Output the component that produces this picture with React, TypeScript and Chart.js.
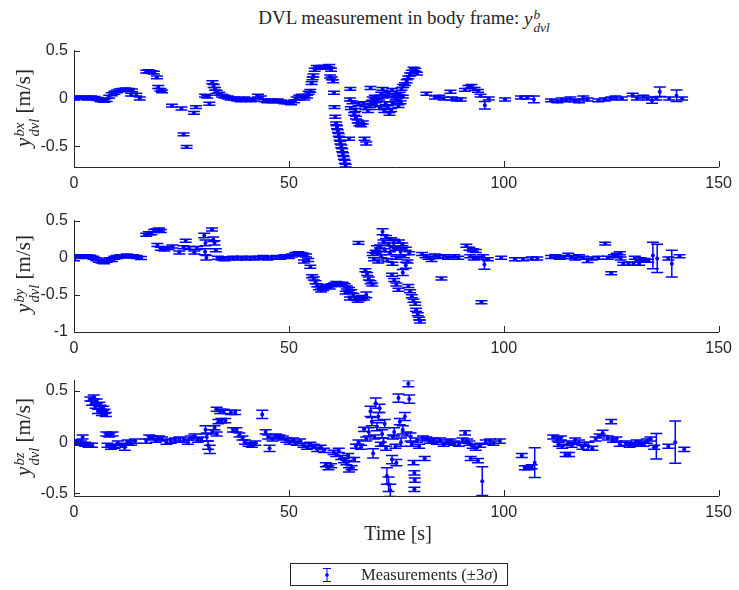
import React, { useEffect, useRef } from "react";
import { Chart, registerables } from "chart.js";

Chart.register(...registerables);

// ---------- data: [time (s), velocity (m/s), 3-sigma half-width] ----------
type Pt = [number, number, number];

const xTickValues = [0, 50, 100, 150];
const yTicksBx = [-0.5, 0, 0.5];
const yTicksBy = [-1, -0.5, 0, 0.5];
const yTicksBz = [-0.5, 0, 0.5];

const measBx: Pt[] = [
  [0, 0.0, .015], [0.8, 0.01, .015], [1.6, 0.005, .015], [2.4, 0.01, .015], [3.2, 0.0, .015], [4, 0.012, .015],
  [4.8, 0.005, .015], [5.5, -0.005, .015], [6.2, -0.02, .015], [7, -0.025, .015], [7.6, -0.015, .015],
  [8.2, 0.02, .015], [8.8, 0.045, .015], [9.4, 0.06, .015], [10, 0.075, .015], [10.6, 0.085, .015], [11.2, 0.09, .015],
  [12, 0.095, .015], [12.8, 0.09, .015], [13.5, 0.085, .015], [13.3, 0.04, .015], [14.5, 0.04, .015], [15.3, 0.0, .015],
  [16.8, 0.28, .015], [17.4, 0.285, .015], [18, 0.275, .015], [18.6, 0.27, .015], [19.3, 0.22, .015], [19.6, 0.12, .015],
  [20.1, 0.09, .015], [20.5, 0.075, .015],
  [22.8, -0.075, .015], [25, -0.105, .015], [25.5, -0.375, .015], [26.2, -0.505, .015], [27.9, -0.15, .015], [28.4, -0.09, .015],
  [30.5, 0.03, .015], [31, 0.02, .015], [31.5, -0.055, .015], [32.2, 0.17, .015], [32.5, 0.13, .015], [32.8, 0.1, .015],
  [33.2, 0.07, .015], [33.8, 0.05, .015], [34.4, 0.03, .015], [35, 0.02, .015], [35.8, 0.01, .015], [36.5, 0.0, .015],
  [37.2, 0.0, .015], [38, -0.01, .015], [38.8, -0.02, .015], [39.6, 0.0, .015], [40.4, -0.01, .015], [41.2, -0.02, .015],
  [42, -0.01, .015], [42.8, 0.03, .015], [43.5, 0.01, .015], [44.3, -0.02, .015], [45, -0.03, .015], [45.8, -0.02, .015],
  [46.6, -0.03, .015], [47.4, -0.02, .015], [48.2, -0.03, .015], [49, -0.04, .015], [49.8, -0.04, .015], [50.5, -0.05, .015],
  [51.2, -0.03, .015], [51.8, 0.0, .015], [52.4, 0.02, .015], [53, 0.03, .015], [53.6, 0.0, .015], [54.2, 0.02, .015],
  [54.6, 0.06, .015], [55, 0.08, .015], [55.3, 0.16, .015], [55.5, 0.21, .015], [55.7, 0.24, .015], [56, 0.3, .015],
  [56.5, 0.33, .015], [57, 0.32, .015], [57.6, 0.33, .015], [58.2, 0.33, .015], [58.8, 0.32, .015], [59.4, 0.34, .015],
  [59.8, 0.3, .015], [59.6, 0.23, .015], [60, 0.21, .015], [60.3, 0.18, .015], [60.5, 0.06, .015], [60.6, -0.09, .015],
  [60.8, -0.19, .015], [61, -0.26, .015], [61.2, -0.3, .015], [61.4, -0.34, .015], [61.6, -0.38, .015], [61.8, -0.42, .015],
  [62, -0.46, .015], [62.2, -0.5, .015], [62.4, -0.54, .015], [62.6, -0.58, .015], [62.8, -0.62, .015], [63, -0.66, .015],
  [63.2, -0.7, .015],
  [64.3, 0.1, .015], [64.2, -0.01, .015], [64.4, -0.1, .015], [64, -0.42, .015], [64.8, -0.04, .015], [65.2, -0.16, .015],
  [65.6, -0.2, .015], [66, -0.24, .015], [66.4, -0.27, .015], [66.8, -0.28, .015], [67.2, -0.25, .015], [67.6, -0.42, .015],
  [68, -0.47, .015], [65.5, -0.12, .015], [66.2, -0.06, .015], [67.4, -0.05, .015], [67.8, -0.1, .015],
  [68.4, -0.13, .015], [68.8, -0.08, .015], [69.2, -0.04, .015], [69.5, 0.0, .015], [69, 0.11, .015], [70, 0.02, .015],
  [70.2, -0.06, .015], [70.5, -0.02, .015], [71, 0.0, .015], [71.2, -0.1, .015], [71.5, 0.05, .015], [71.8, 0.1, .015],
  [72, 0.02, .015], [72.2, -0.13, .015], [72.5, -0.05, .015], [72.8, 0.03, .015], [73, -0.09, .015], [73.2, 0.06, .015],
  [73.4, -0.16, .015], [73.8, -0.12, .015], [74, 0.09, .015], [74.2, -0.05, .015], [74.5, 0.04, .015], [74.8, 0.0, .015],
  [75, -0.02, .015], [75.3, 0.03, .015], [75.5, -0.08, .015], [75.8, 0.05, .015], [76, -0.04, .015], [76.2, 0.1, .015],
  [76.5, 0.02, .015], [76.6, 0.13, .015], [77, 0.15, .015], [77.4, 0.18, .015], [77.8, 0.22, .015], [78.2, 0.25, .015],
  [78.6, 0.28, .015], [79, 0.31, .015], [79.4, 0.3, .015], [79.8, 0.26, .015],
  [82, 0.05, .015], [84, 0.01, .015], [85, 0.02, .015], [86, 0.0, .015], [87.6, 0.07, .015], [88, 0.0, .015],
  [89, -0.01, .015], [90, -0.01, .015], [91, 0.09, .015], [91.8, 0.12, .015], [92.5, 0.13, .015], [93.2, 0.1, .015],
  [94, 0.08, .015], [94.6, 0.03, .015], [95.6, -0.07, .04], [96.5, 0.0, .015], [100.3, -0.01, .015], [104, 0.01, .015],
  [105.5, 0.01, .015], [107, -0.01, .035],
  [111, -0.02, .015], [112.5, -0.03, .015], [113.5, -0.01, .015], [114.5, -0.02, .015], [115.5, 0.0, .015],
  [116.5, -0.02, .015], [117.5, -0.03, .015], [118.5, 0.01, .015], [119.5, -0.01, .015],
  [122, -0.02, .015], [123.5, -0.01, .015], [125, 0.0, .015], [126, 0.01, .015], [127.5, 0.0, .015],
  [130, 0.04, .015], [131, 0.0, .015], [132.5, 0.02, .015], [133.5, 0.0, .015], [134.5, -0.02, .03], [135.5, 0.0, .015],
  [136.3, 0.07, .05], [138.5, 0.0, .015], [140.2, 0.03, .06], [141.5, 0.0, .015],
];

const measBy: Pt[] = [
  [0, -0.02, .02], [0.6, 0.02, .02], [1.4, 0.01, .02], [2.2, 0.02, .02], [3, 0.02, .02], [3.8, 0.015, .02],
  [4.5, 0.0, .02], [5.2, -0.02, .02], [5.8, -0.04, .02], [6.4, -0.05, .02], [7, -0.06, .02], [7.6, -0.04, .02],
  [8.2, -0.02, .02], [8.8, -0.03, .02], [9.4, 0.0, .02], [10, 0.01, .02], [10.8, 0.02, .02], [11.5, 0.02, .02],
  [12.3, 0.03, .02], [13, 0.02, .02], [13.8, 0.02, .02], [14.6, 0.01, .02], [15.6, -0.005, .02],
  [16.8, 0.31, .02], [17.4, 0.33, .02], [18, 0.33, .02], [18.6, 0.36, .02], [19.2, 0.37, .02], [19.8, 0.38, .02], [20.2, 0.36, .02],
  [19.4, 0.17, .02], [20.2, 0.12, .02], [21, 0.11, .02], [22, 0.13, .02], [22.9, 0.15, .02], [24.5, 0.07, .02],
  [25.5, 0.14, .02], [26, 0.23, .02], [26.8, 0.13, .02], [28, 0.07, .02], [28.6, 0.13, .02], [30.3, 0.3, .03],
  [30.6, 0.2, .04], [30.5, 0.08, .04], [30.8, 0.0, .03], [32.1, 0.38, .02], [32.4, 0.25, .03], [32.7, 0.2, .03],
  [33, 0.1, .02], [33.5, 0.0, .02], [34.3, -0.01, .02], [35, -0.02, .02], [36, -0.01, .02],
  [37, 0.0, .02], [38, -0.01, .02], [39, 0.0, .02], [40, -0.01, .02], [41, 0.0, .02], [42, -0.01, .02], [43, 0.0, .02],
  [44, 0.01, .02], [45, -0.01, .02], [46, 0.0, .02], [47, 0.01, .02], [48, 0.0, .02], [49, 0.02, .02], [50, 0.01, .02],
  [50.8, 0.03, .02], [51.5, 0.05, .02], [52.2, 0.06, .02], [52.8, 0.05, .02], [53.4, 0.04, .02], [54, 0.03, .02],
  [53.5, -0.05, .02], [54.5, -0.03, .02], [55, -0.12, .02],
  [55.4, -0.25, .02], [55.8, -0.28, .02], [56.2, -0.33, .02], [56.6, -0.37, .02], [57, -0.41, .02], [57.5, -0.44, .02],
  [58, -0.42, .02], [58.5, -0.39, .02], [59, -0.38, .02], [59.5, -0.4, .02], [60, -0.37, .02], [60.5, -0.36, .02],
  [61, -0.34, .02], [61.5, -0.35, .02], [62, -0.36, .02], [62.5, -0.35, .02], [63, -0.37, .02], [63.5, -0.4, .02],
  [64, -0.42, .02], [64.5, -0.45, .02], [65, -0.5, .02], [65.5, -0.55, .02], [66, -0.58, .02], [66.5, -0.56, .02],
  [67, -0.53, .02], [67.5, -0.55, .02], [68, -0.5, .04], [63.2, -0.47, .02], [64.2, -0.55, .02],
  [66.2, 0.2, .02], [67.8, -0.17, .02], [68.2, -0.22, .02], [68.6, -0.28, .02], [69, -0.33, .02], [69.4, -0.36, .02],
  [69.5, 0.05, .02], [69.8, -0.02, .02], [70.2, 0.08, .02], [70.5, 0.12, .04], [70.8, -0.05, .02], [71.2, 0.15, .02],
  [71.5, 0.02, .02], [71.8, 0.35, .04], [72, 0.22, .02], [72.3, 0.1, .02], [72.6, 0.28, .02], [72.9, -0.03, .02],
  [73.2, 0.18, .02], [73.5, 0.06, .02], [73.8, 0.25, .02], [74.1, -0.08, .02], [74.4, 0.2, .05], [74.7, 0.12, .02],
  [75, 0.0, .02], [75.3, 0.14, .02], [75.6, 0.22, .02], [76, 0.08, .04], [76.4, 0.18, .02], [76.8, 0.02, .02],
  [77.2, 0.12, .02], [77.6, -0.05, .02], [78, 0.06, .02],
  [74, -0.23, .02], [74.5, -0.3, .02], [75, -0.36, .02], [75.5, -0.43, .02], [76.5, -0.2, .04], [77.2, -0.1, .04],
  [77.8, -0.38, .02], [78.2, -0.45, .02], [78.6, -0.52, .02], [79, -0.58, .02], [79.4, -0.62, .02], [79.6, -0.7, .02],
  [80, -0.76, .02], [80.3, -0.82, .02], [80.5, -0.86, .02],
  [81, 0.05, .02], [81.8, 0.02, .02], [82.5, 0.0, .02], [83.2, -0.03, .02], [84, 0.03, .02], [84.8, 0.01, .02],
  [85.5, -0.28, .02], [86.2, 0.02, .02], [87, 0.0, .02], [88.5, 0.02, .02], [89.4, 0.0, .02],
  [91.3, 0.16, .02], [92, 0.12, .02], [92.8, 0.1, .02], [93.5, 0.09, .02], [92.2, 0.02, .02], [93, -0.01, .02],
  [94, 0.0, .02], [94.8, -0.6, .02], [95.2, 0.02, .02], [95.5, -0.09, .065], [96.3, -0.02, .02],
  [99.4, 0.0, .02], [102.6, -0.02, .02], [104.5, -0.02, .02], [106.5, -0.01, .02], [107.8, -0.01, .02],
  [111, 0.01, .02], [112, 0.02, .02], [113, 0.0, .02], [114, 0.01, .02], [115, 0.04, .02], [115.8, 0.01, .02],
  [116.6, -0.01, .02], [117.5, 0.02, .02], [118.5, 0.0, .02], [119.5, -0.04, .025], [120.5, -0.01, .02],
  [122, 0.0, .02], [123.6, 0.19, .02], [124.2, 0.0, .02], [125, -0.21, .02], [125.6, 0.02, .02], [126.3, 0.04, .02],
  [127.2, -0.01, .02], [127, 0.06, .02],
  [127.8, -0.08, .02], [129, -0.08, .02], [130.2, -0.08, .02], [131.5, -0.08, .02], [130.5, 0.0, .02], [131.8, -0.02, .02],
  [132.8, -0.03, .02], [133.6, -0.04, .02], [134.7, 0.03, .18], [135.7, -0.01, .19], [138.3, -0.01, .02],
  [139.1, -0.08, .18], [140.9, 0.02, .02],
];

const measBz: Pt[] = [
  [0, 0.0, .02], [0.8, 0.0, .02], [1.6, -0.01, .02], [2.0, 0.05, .02], [2.6, -0.02, .02], [3.4, -0.03, .02], [4.2, -0.03, .02],
  [3.8, 0.42, .02], [4.2, 0.38, .02], [4.6, 0.44, .02], [5, 0.35, .02], [5.3, 0.4, .02], [5.6, 0.3, .02], [5.9, 0.37, .02],
  [6.2, 0.34, .02], [6.5, 0.28, .02], [6.8, 0.33, .02], [7.1, 0.3, .02], [7.4, 0.27, .02],
  [7.5, 0.08, .02], [8.2, 0.07, .02], [9, 0.08, .02], [7.8, -0.03, .02], [8.6, -0.05, .02], [9.4, -0.04, .02],
  [10.2, -0.01, .02], [11, -0.03, .02], [11.8, -0.05, .03], [12.5, 0.0, .02], [13.3, -0.01, .02], [14.2, 0.01, .02],
  [16.8, 0.01, .02], [17.5, 0.05, .02], [18.2, 0.04, .02], [19, 0.02, .02], [19.8, 0.04, .02], [20.5, 0.03, .02],
  [21.5, 0.0, .02], [22.5, 0.01, .02], [23.5, 0.02, .02], [24.5, 0.03, .02], [25.5, 0.02, .02], [26.5, 0.0, .02],
  [27.2, 0.04, .02], [28, 0.06, .02], [28.8, 0.02, .02], [29.6, 0.03, .02],
  [30.6, 0.12, .04], [30.9, 0.05, .04], [31.2, -0.03, .04], [31.6, -0.07, .04], [32.2, 0.1, .02], [32.7, 0.14, .02],
  [33.2, 0.08, .02], [33.6, 0.2, .02], [34.3, 0.21, .02], [35.2, 0.21, .02], [33.2, 0.32, .02], [34, 0.3, .02],
  [34.8, 0.3, .02], [36.5, 0.29, .02], [37.5, 0.29, .02], [37, 0.12, .02], [37.8, 0.12, .02], [38.5, 0.07, .02],
  [39.2, 0.04, .02], [39.8, 0.0, .02], [40.6, -0.02, .02], [41.4, -0.03, .02], [42.2, -0.01, .02], [43.8, 0.27, .04],
  [44.6, 0.1, .02], [45.2, 0.05, .02], [45.5, -0.06, .03], [46.2, 0.03, .02], [47, 0.06, .02], [47.8, 0.05, .02],
  [48.6, 0.04, .02], [49.4, 0.02, .02], [50.2, 0.0, .02], [51, 0.02, .02], [51.8, -0.01, .02], [52.6, 0.01, .02],
  [53.4, -0.03, .02], [54.2, -0.05, .02], [55, -0.02, .02], [55.8, -0.04, .02], [56.6, -0.07, .02], [57.4, -0.05, .02],
  [58.2, -0.08, .02], [58.6, -0.22, .02], [59.2, -0.25, .02], [59.8, -0.23, .02], [60.4, -0.1, .02], [61, -0.12, .02],
  [61.6, -0.08, .02], [62.2, -0.15, .02], [62.8, -0.18, .02], [63.4, -0.2, .02], [64, -0.27, .02], [64.6, -0.25, .02],
  [63.8, -0.13, .02], [65.2, -0.17, .02], [65.6, -0.04, .02], [66.2, 0.0, .02], [66.8, -0.05, .02], [67.5, 0.125, .02],
  [68, 0.03, .02],
  [68.6, 0.1, .04], [69, 0.3, .05], [69.3, 0.2, .04], [69.6, -0.11, .045], [69.9, 0.05, .02], [70.2, 0.38, .05],
  [70.5, 0.15, .04], [70.8, 0.25, .04], [71.1, 0.33, .04], [71.4, -0.02, .02], [71.7, 0.08, .04], [72, 0.0, .04],
  [72.3, 0.18, .04], [72.6, -0.06, .02], [72.8, -0.33, .08], [73.2, -0.41, .07], [73.6, -0.47, .06], [74, -0.17, .04],
  [74.2, 0.05, .02], [74.5, 0.1, .04], [74.8, -0.04, .02], [75, -0.2, .03], [75.5, 0.43, .04], [75.8, 0.2, .03],
  [76.1, 0.0, .04], [76.5, 0.12, .04], [77, 0.25, .04], [77.4, 0.08, .02], [77.8, 0.57, .03], [78, 0.42, .04],
  [78.3, 0.05, .04], [78.6, -0.02, .02], [79, -0.2, .02], [79.2, -0.3, .02], [79.3, -0.37, .02], [79.2, -0.46, .02],
  [79.8, 0.02, .02], [80.3, -0.04, .02], [81.6, -0.16, .02],
  [81.2, 0.04, .02], [82, 0.03, .02], [82.8, 0.01, .02], [83.6, 0.02, .02], [84.4, 0.0, .02], [85.2, 0.02, .02],
  [86, -0.02, .02], [86.8, 0.0, .02], [87.6, 0.01, .02], [88.4, -0.01, .02], [89.6, -0.02, .02], [90.4, 0.02, .02],
  [91, 0.09, .02], [91.5, 0.01, .02], [92, -0.01, .02], [92.3, -0.16, .02], [92.8, -0.04, .02], [93.5, -0.06, .02],
  [94, -0.18, .02], [94.5, -0.03, .02], [95, -0.38, .14], [95.8, 0.0, .02], [96.8, 0.01, .02], [97.6, -0.01, .02],
  [99.1, 0.01, .02],
  [104.2, -0.13, .02], [104.9, -0.25, .02], [105.7, -0.25, .02], [106.5, -0.24, .02], [107.2, -0.2, .145],
  [111.5, 0.05, .02], [112.5, 0.03, .02], [113.3, 0.04, .02], [112.8, -0.02, .02], [113.6, -0.04, .02], [114.4, -0.12, .02],
  [115.2, -0.12, .02], [115, -0.01, .02], [115.8, -0.03, .02], [116.6, 0.02, .02], [117.5, 0.0, .02], [118.3, -0.05, .02],
  [119, -0.02, .02], [119.7, -0.04, .04], [120.6, -0.06, .02],
  [121.4, 0.03, .02], [122.3, 0.06, .02], [123, 0.09, .025], [125, 0.2, .02], [124.2, 0.04, .02], [125.4, 0.02, .02],
  [126.2, 0.03, .02], [127, -0.02, .02], [128.5, -0.01, .02], [129.3, -0.03, .02], [130.1, -0.02, .02], [130.9, 0.0, .02],
  [131.7, -0.01, .02], [132.5, -0.02, .02], [133.3, 0.01, .02], [134.1, 0.03, .02], [135, -0.05, .02],
  [135.5, -0.04, .125], [138.3, -0.04, .02], [139.9, 0.0, .205], [142, -0.07, .02],
];

// ---------- styles ----------
const BLUE = "rgb(0,0,255)";
const AXIS = "rgb(38,38,38)";
const SANS = "'Liberation Sans', Arial, Helvetica, sans-serif";
const SERIF = "'Liberation Serif', 'Times New Roman', serif";
const W = 739;

const errorBarPlugin = {
  id: "errorBars",
  beforeDatasetsDraw(chart: any) {
    const { ctx, chartArea, scales } = chart;
    const xs = scales.x;
    const ys = scales.y;
    ctx.save();
    ctx.beginPath();
    ctx.rect(chartArea.left, chartArea.top, chartArea.right - chartArea.left, chartArea.bottom - chartArea.top);
    ctx.clip();
    ctx.strokeStyle = BLUE;
    ctx.lineWidth = 1.5;
    const cap = 6;
    chart.data.datasets.forEach((ds: any) => {
      ds.data.forEach((d: any) => {
        const px = xs.getPixelForValue(d.x);
        const pLo = ys.getPixelForValue(d.y - d.e);
        const pHi = ys.getPixelForValue(d.y + d.e);
        ctx.beginPath();
        ctx.moveTo(px, pLo);
        ctx.lineTo(px, pHi);
        ctx.moveTo(px - cap, pLo);
        ctx.lineTo(px + cap, pLo);
        ctx.moveTo(px - cap, pHi);
        ctx.lineTo(px + cap, pHi);
        ctx.stroke();
      });
    });
    ctx.restore();
  },
};

const inwardTicksPlugin = {
  id: "inwardTicks",
  afterDraw(chart: any) {
    const { ctx, chartArea, scales } = chart;
    const len = 6;
    ctx.save();
    ctx.strokeStyle = AXIS;
    ctx.lineWidth = 1;
    ctx.beginPath();
    scales.x.ticks.forEach((t: any) => {
      const px = Math.round(scales.x.getPixelForValue(t.value)) + 0.5;
      ctx.moveTo(px, chartArea.bottom);
      ctx.lineTo(px, chartArea.bottom - len);
    });
    scales.y.ticks.forEach((t: any) => {
      const py = Math.round(scales.y.getPixelForValue(t.value)) + 0.5;
      ctx.moveTo(chartArea.left, py);
      ctx.lineTo(chartArea.left + len, py);
    });
    ctx.stroke();
    ctx.restore();
  },
};

type PanelSpec = {
  pts: Pt[];
  yMin: number;
  yMax: number;
  yTicks: number[];
  canvasTop: number;
  canvasH: number;
  areaTop: number;
  areaBottom: number;
};

const AREA_LEFT = 74;
const AREA_RIGHT = 722;
const Y_AXIS_W = 60;

function buildChart(canvas: HTMLCanvasElement, p: PanelSpec) {
  return new Chart(canvas, {
    type: "scatter",
    data: {
      datasets: [
        {
          data: p.pts.map((q) => ({ x: q[0], y: q[1], e: q[2] })),
          pointRadius: 2,
          pointHoverRadius: 2,
          pointBackgroundColor: BLUE,
          pointBorderWidth: 0,
          borderWidth: 0,
        } as any,
      ],
    },
    options: {
      animation: false,
      responsive: false,
      devicePixelRatio: 1,
      events: [],
      layout: {
        padding: {
          left: AREA_LEFT - Y_AXIS_W,
          right: W - AREA_RIGHT,
          top: p.areaTop - p.canvasTop,
          bottom: 0,
        },
      },
      plugins: {
        legend: { display: false },
        tooltip: { enabled: false },
        title: { display: false },
      },
      scales: {
        x: {
          type: "linear",
          min: 0,
          max: 150,
          grid: { display: false, drawTicks: false, tickLength: 0 },
          border: { display: true, color: AXIS, width: 1 },
          ticks: {
            color: AXIS,
            font: { family: SANS, size: 16 },
            padding: 7,
            maxRotation: 0,
            autoSkip: false,
            callback: (v: any) => String(v),
          },
          afterBuildTicks: (s: any) => {
            s.ticks = xTickValues.map((v) => ({ value: v }));
          },
          afterFit: (s: any) => {
            s.height = p.canvasTop + p.canvasH - p.areaBottom;
          },
        },
        y: {
          type: "linear",
          min: p.yMin,
          max: p.yMax,
          grid: { display: false, drawTicks: false, tickLength: 0 },
          border: { display: true, color: AXIS, width: 1 },
          ticks: {
            color: AXIS,
            font: { family: SANS, size: 16 },
            padding: 6,
            autoSkip: false,
            callback: (v: any) => String(v),
          },
          afterBuildTicks: (s: any) => {
            s.ticks = p.yTicks.map((v) => ({ value: v }));
          },
          afterFit: (s: any) => {
            s.width = Y_AXIS_W;
          },
        },
      },
    } as any,
    plugins: [errorBarPlugin, inwardTicksPlugin],
  });
}

function Panel({ spec }: { spec: PanelSpec }) {
  const ref = useRef<HTMLCanvasElement | null>(null);
  useEffect(() => {
    if (!ref.current) return;
    const c = buildChart(ref.current, spec);
    return () => c.destroy();
  }, [spec]);
  return (
    <canvas
      ref={ref}
      width={W}
      height={spec.canvasH}
      style={{ position: "absolute", left: 0, top: spec.canvasTop, width: W, height: spec.canvasH }}
    />
  );
}

function YSym({ sup, sub }: { sup: string; sub: string }) {
  return (
    <span style={{ whiteSpace: "nowrap" }}>
      <i>y</i>
      <span
        style={{
          display: "inline-flex",
          flexDirection: "column",
          fontSize: "0.7em",
          lineHeight: 1,
          verticalAlign: "0.42em",
          fontStyle: "italic",
          marginLeft: 1,
        }}
      >
        <span>{sup}</span>
        <span>{sub}</span>
      </span>
    </span>
  );
}

function YLabel({ sup, cy }: { sup: string; cy: number }) {
  return (
    <div
      style={{
        position: "absolute",
        left: 27,
        top: cy,
        transform: "translate(-50%, -50%) rotate(-90deg)",
        fontFamily: SERIF,
        fontSize: 21,
        color: AXIS,
        whiteSpace: "nowrap",
        lineHeight: 1,
      }}
    >
      <YSym sup={sup} sub="dvl" /> [m/s]
    </div>
  );
}

const panels: PanelSpec[] = [
  { pts: measBx, yMin: -0.715, yMax: 0.5, yTicks: yTicksBx, canvasTop: 35, canvasH: 170, areaTop: 49, areaBottom: 167 },
  { pts: measBy, yMin: -1, yMax: 0.5, yTicks: yTicksBy, canvasTop: 205, canvasH: 160, areaTop: 215, areaBottom: 332 },
  { pts: measBz, yMin: -0.525, yMax: 0.6, yTicks: yTicksBz, canvasTop: 365, canvasH: 160, areaTop: 377, areaBottom: 496 },
];

export default function App() {
  return (
    <div style={{ position: "absolute", left: 0, top: 0, width: W, height: 590, background: "#fff", overflow: "hidden" }}>
      <div
        style={{
          position: "absolute",
          left: 404,
          top: 21,
          transform: "translate(-50%, -50%)",
          fontFamily: SERIF,
          fontSize: 19,
          color: AXIS,
          whiteSpace: "nowrap",
          lineHeight: 1,
        }}
      >
        DVL measurement in body frame: <YSym sup="b" sub="dvl" />
      </div>
      {panels.map((p, i) => (
        <Panel key={i} spec={p} />
      ))}
      <YLabel sup="bx" cy={(panels[0].areaTop + panels[0].areaBottom) / 2} />
      <YLabel sup="by" cy={(panels[1].areaTop + panels[1].areaBottom) / 2} />
      <YLabel sup="bz" cy={(panels[2].areaTop + panels[2].areaBottom) / 2} />
      <div
        style={{
          position: "absolute",
          left: 398,
          top: 533,
          transform: "translate(-50%, -50%)",
          fontFamily: SERIF,
          fontSize: 20,
          color: AXIS,
          whiteSpace: "nowrap",
          lineHeight: 1,
        }}
      >
        Time [s]
      </div>
      <div
        style={{
          position: "absolute",
          left: 290,
          top: 563,
          width: 218,
          height: 23,
          border: "1px solid " + AXIS,
          boxSizing: "border-box",
          background: "#fff",
        }}
      >
        <svg width={12} height={16} style={{ position: "absolute", left: 30, top: 2.5 }}>
          <line x1={6} y1={1} x2={6} y2={15} stroke={BLUE} strokeWidth={1} />
          <line x1={2} y1={1.5} x2={10} y2={1.5} stroke={BLUE} strokeWidth={1} />
          <line x1={2} y1={14.5} x2={10} y2={14.5} stroke={BLUE} strokeWidth={1} />
          <circle cx={6} cy={8} r={1.8} fill={BLUE} />
        </svg>
        <div
          style={{
            position: "absolute",
            left: 70,
            top: 10.5,
            transform: "translateY(-50%)",
            fontFamily: SERIF,
            fontSize: 16.5,
            color: AXIS,
            whiteSpace: "nowrap",
            lineHeight: 1,
          }}
        >
          Measurements (±3<i>σ</i>)
        </div>
      </div>
    </div>
  );
}
